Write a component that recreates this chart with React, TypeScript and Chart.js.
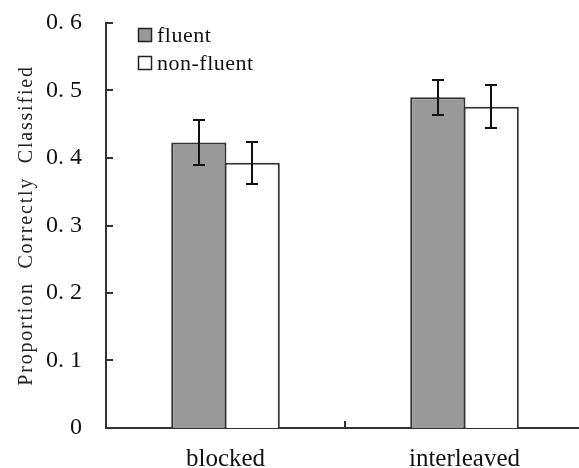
import React, { useEffect, useRef } from "react";
import { Chart, registerables } from "chart.js";

Chart.register(...registerables);

const categories = ["blocked", "interleaved"];
const seriesNames = ["fluent", "non-fluent"];
const fluent = [0.423, 0.49];
const fluentErr = [0.033, 0.026];
const nonFluent = [0.393, 0.476];
const nonFluentErr = [0.031, 0.032];
const yTicks = [0, 0.1, 0.2, 0.3, 0.4, 0.5, 0.6];
const yTitle = "Proportion  Correctly  Classified";

const SERIF = "'Liberation Serif', 'Times New Roman', serif";
const INK = "#222";

const errorBarPlugin = {
  id: "errorBars",
  afterDatasetsDraw(chart: any) {
    const ctx = chart.ctx;
    const y = chart.scales.y;
    const errs = [fluentErr, nonFluentErr];
    ctx.save();
    ctx.strokeStyle = "#111";
    ctx.lineWidth = 2;
    chart.data.datasets.forEach((ds: any, di: number) => {
      const meta = chart.getDatasetMeta(di);
      meta.data.forEach((bar: any, i: number) => {
        const v = ds.data[i];
        const e = errs[di][i];
        const yt = Math.round(y.getPixelForValue(v + e));
        const yb = Math.round(y.getPixelForValue(v - e));
        const x = Math.round(bar.x);
        ctx.beginPath();
        ctx.moveTo(x, yt);
        ctx.lineTo(x, yb);
        ctx.moveTo(x - 6, yt);
        ctx.lineTo(x + 6, yt);
        ctx.moveTo(x - 6, yb);
        ctx.lineTo(x + 6, yb);
        ctx.stroke();
      });
    });
    ctx.restore();
  },
};

const axisDecorPlugin = {
  id: "axisDecor",
  afterDraw(chart: any) {
    const ctx = chart.ctx;
    const y = chart.scales.y;
    const x = chart.scales.x;
    const area = chart.chartArea;
    ctx.save();
    ctx.strokeStyle = "#333";
    ctx.lineWidth = 2;
    ctx.beginPath();
    yTicks.forEach((t) => {
      const py = Math.round(y.getPixelForValue(t));
      ctx.moveTo(area.left, py);
      ctx.lineTo(area.left + 7, py);
    });
    for (let i = 0; i < categories.length - 1; i++) {
      const px = Math.round((x.getPixelForValue(i) + x.getPixelForValue(i + 1)) / 2);
      ctx.moveTo(px, area.bottom);
      ctx.lineTo(px, area.bottom - 7);
    }
    ctx.stroke();

    // y-axis title
    ctx.save();
    (ctx as any).letterSpacing = "1.8px";
    ctx.font = `20px ${SERIF}`;
    ctx.fillStyle = "#222";
    ctx.textAlign = "center";
    ctx.textBaseline = "middle";
    ctx.translate(27, (area.top + area.bottom) / 2);
    ctx.rotate(-Math.PI / 2);
    ctx.fillText(yTitle, 0, 0);
    ctx.restore();

    // legend
    const fills = ["#999999", "#ffffff"];
    (ctx as any).letterSpacing = "0.5px";
    ctx.font = `22px ${SERIF}`;
    ctx.textBaseline = "alphabetic";
    ctx.textAlign = "left";
    seriesNames.forEach((name, i) => {
      const bx = 138.5;
      const by = 28.5 + i * 28;
      ctx.fillStyle = fills[i];
      ctx.fillRect(bx, by, 13, 13);
      ctx.lineWidth = 1.5;
      ctx.strokeStyle = INK;
      ctx.strokeRect(bx, by, 13, 13);
      ctx.fillStyle = "#111";
      ctx.fillText(name, 157, by + 13.5);
    });
    ctx.restore();
  },
};

export default function App() {
  const ref = useRef<HTMLCanvasElement>(null);
  useEffect(() => {
    if (!ref.current) return;
    const chart = new Chart(ref.current, {
      type: "bar",
      data: {
        labels: categories,
        datasets: [
          {
            label: seriesNames[0],
            data: fluent,
            backgroundColor: "#999999",
            borderColor: "#333",
            borderWidth: 2,
          },
          {
            label: seriesNames[1],
            data: nonFluent,
            backgroundColor: "#ffffff",
            borderColor: "#333",
            borderWidth: 2,
          },
        ],
      },
      options: {
        responsive: false,
        animation: false,
        layout: { padding: { top: 23, right: 0, left: 0, bottom: 0 } },
        datasets: {
          bar: { categoryPercentage: 0.4466, barPercentage: 1.035 },
        },
        plugins: {
          legend: { display: false },
          tooltip: { enabled: false },
        },
        scales: {
          x: {
            grid: { display: false, drawTicks: false },
            border: { display: true, color: "#333", width: 2 },
            ticks: {
              color: "#111",
              padding: 16,
              font: { family: SERIF, size: 25 },
            },
            afterFit: (s: any) => {
              s.height = 40;
              s.paddingLeft = 0;
              s.paddingRight = 0;
            },
          },
          y: {
            min: 0,
            max: 0.6,
            grid: { display: false, drawTicks: false },
            border: { display: true, color: "#333", width: 2 },
            afterBuildTicks: (s: any) => {
              s.ticks = yTicks.map((v) => ({ value: v }));
            },
            ticks: {
              color: "#111",
              padding: 24,
              font: { family: SERIF, size: 24 },
              callback: (v: any) => {
                const n = Number(v);
                return n === 0 ? "0" : n.toFixed(1).replace(".", ". ");
              },
            },
            afterFit: (s: any) => {
              s.width = 106;
              s.paddingTop = 0;
              s.paddingBottom = 0;
            },
          },
        },
      },
      plugins: [errorBarPlugin, axisDecorPlugin],
    });
    return () => chart.destroy();
  }, []);
  return (
    <div
      style={{
        position: "absolute",
        left: 0,
        top: 0,
        width: 579,
        height: 468,
        overflow: "hidden",
        background: "#fff",
      }}
    >
      <canvas ref={ref} width={584} height={468} style={{ display: "block" }} />
    </div>
  );
}
